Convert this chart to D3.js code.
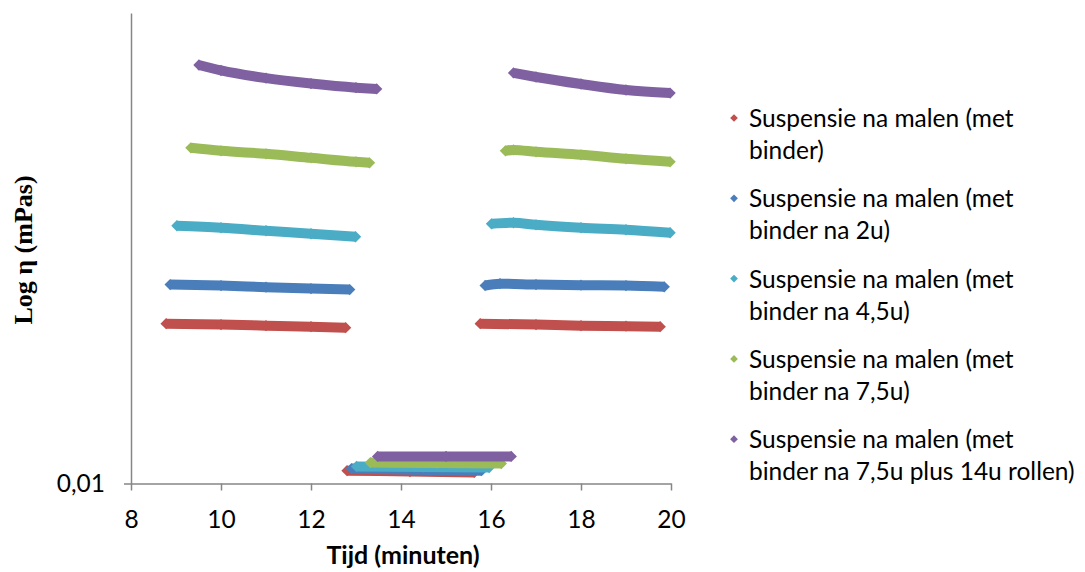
<!DOCTYPE html>
<html>
<head>
<meta charset="utf-8">
<script src="https://d3js.org/d3.v7.min.js"></script>
<style>
  body { margin: 0; background: #fff; }
  svg { display: block; }
</style>
</head>
<body>
<div id="chart"></div>
<script>
// x-axis ticks (minutes) and the single labelled y tick
const xTicks = [8, 10, 12, 14, 16, 18, 20];
const yTicks = [0.01];

const seriesNames = [
  ["Suspensie na malen (met", "binder)"],
  ["Suspensie na malen (met", "binder na 2u)"],
  ["Suspensie na malen (met", "binder na 4,5u)"],
  ["Suspensie na malen (met", "binder na 7,5u)"],
  ["Suspensie na malen (met", "binder na 7,5u plus 14u rollen)"]
];
const seriesColors = ["#C0504D", "#4A7EBB", "#4BACC6", "#9BBB59", "#7F60A0"];

// time (min) and viscosity (mPas) per series
const redTime = [8.78, 10, 11, 12, 12.77, 12.80, 14.2, 15.63, 15.76, 17, 18, 19, 19.76];
const redEta = [0.500, 0.488, 0.476, 0.464, 0.453, 0.0137, 0.0134, 0.0131, 0.500, 0.488, 0.476, 0.470, 0.464];

const blueTime = [8.87, 10, 11, 12, 12.86, 12.90, 14.3, 15.79, 15.87, 16.2, 17, 18, 19, 19.85];
const blueEta = [1.30, 1.27, 1.22, 1.18, 1.15, 0.0144, 0.0140, 0.0137, 1.27, 1.33, 1.30, 1.28, 1.27, 1.23];

const cyanTime = [9.02, 10, 11, 12, 12.99, 13.01, 14.5, 15.96, 16.01, 16.5, 17, 18, 19, 19.98];
const cyanEta = [5.48, 5.22, 4.85, 4.51, 4.19, 0.0152, 0.0150, 0.0148, 5.75, 5.90, 5.61, 5.22, 4.97, 4.62];

const greenTime = [9.33, 10, 11, 12, 13, 13.30, 13.32, 14.8, 16.23, 16.32, 16.5, 17, 18, 19, 19.98];
const greenEta = [36.9, 34.3, 31.9, 28.9, 26.2, 25.6, 0.0167, 0.0165, 0.0163, 34.3, 35.1, 33.5, 31.1, 28.2, 26.2];

const purpleTime = [9.51, 10, 11, 12, 13, 13.46, 13.48, 15, 16.45, 16.50, 17, 18, 19, 19.98];
const purpleEta = [280, 245, 203, 178, 161, 156, 0.0194, 0.0194, 0.0194, 231, 209, 176, 152, 141];

const seriesTimes = [redTime, blueTime, cyanTime, greenTime, purpleTime];
const seriesEtas = [redEta, blueEta, cyanEta, greenEta, purpleEta];

const width = 1085;
const height = 572;
const axisColor = "#868686";
const sansFont = "Lato, 'Open Sans', sans-serif";

const svg = d3.select("#chart")
  .append("svg")
    .attr("width", width)
    .attr("height", height)
    .style("background", "#fff");

const x = d3.scaleLinear().domain([8, 20]).range([131, 671]);
const y = d3.scaleLog().domain([0.01, 1000]).range([483.5, 13]);

// x axis
const xAxis = svg.append("g")
  .attr("transform", `translate(0, ${y(0.01)})`)
  .call(d3.axisBottom(x).tickValues(xTicks).tickSize(7).tickSizeOuter(0).tickFormat(d3.format("d")));
xAxis.selectAll("text")
  .attr("y", 44).attr("dy", 0)
  .attr("fill", "#000")
  .style("font", `24.5px ${sansFont}`);

// y axis, only the 0,01 label
const yAxis = svg.append("g")
  .attr("transform", `translate(${x(8)}, 0)`)
  .call(d3.axisLeft(y).tickValues(yTicks).tickSize(7).tickSizeOuter(0).tickFormat(d => String(d).replace(".", ",")));
yAxis.selectAll("text")
  .attr("x", -26)
  .attr("fill", "#000")
  .style("font", `24.5px ${sansFont}`);

svg.selectAll(".domain, .tick line")
  .attr("stroke", axisColor)
  .attr("stroke-width", 1.5);

// axis titles
svg.append("text")
  .attr("x", 403)
  .attr("y", 564)
  .attr("text-anchor", "middle")
  .style("font", `bold 25px ${sansFont}`)
  .text("Tijd (minuten)");

svg.append("text")
  .attr("transform", "translate(32, 250) rotate(-90)")
  .attr("text-anchor", "middle")
  .style("font", "bold 26px 'Liberation Serif', serif")
  .text("Log η (mPas)");

// series: the dense markers form bands, so draw a thick line per run plus diamonds
const line = d3.line()
  .curve(d3.curveMonotoneX)
  .x(d => x(d.t))
  .y(d => y(d.v));
const diamond = d3.symbol().type(d3.symbolSquare).size(64);

seriesTimes.forEach((times, i) => {
  const pts = times.map((t, j) => ({ t: t, v: seriesEtas[i][j] }));
  // split into runs where the viscosity jumps
  const runs = [];
  pts.forEach((p, j) => {
    if (j === 0 || Math.abs(Math.log10(p.v / pts[j - 1].v)) > 0.5) runs.push([]);
    runs[runs.length - 1].push(p);
  });
  const g = svg.append("g");
  g.selectAll("path.band")
    .data(runs)
    .enter()
    .append("path")
      .attr("class", "band")
      .attr("d", line)
      .attr("fill", "none")
      .attr("stroke", seriesColors[i])
      .attr("stroke-width", 10)
      .attr("stroke-linejoin", "round");
  g.selectAll("path.mark")
    .data(pts)
    .enter()
    .append("path")
      .attr("class", "mark")
      .attr("d", diamond)
      .attr("transform", d => `translate(${x(d.t)}, ${y(d.v)}) rotate(45)`)
      .attr("fill", seriesColors[i]);
});

// legend
const legend = svg.append("g");
seriesNames.forEach((lines, i) => {
  const top = 127 + i * 80.3;
  legend.append("path")
    .attr("d", d3.symbol().type(d3.symbolSquare).size(30)())
    .attr("transform", `translate(734, ${top - 9}) rotate(45)`)
    .attr("fill", seriesColors[i]);
  const txt = legend.append("text")
    .attr("x", 749)
    .attr("y", top)
    .attr("fill", "#000")
    .style("font", `24.5px ${sansFont}`);
  lines.forEach((l, k) => {
    txt.append("tspan")
      .attr("x", 749)
      .attr("y", top + k * 32)
      .text(l);
  });
});
</script>
</body>
</html>
